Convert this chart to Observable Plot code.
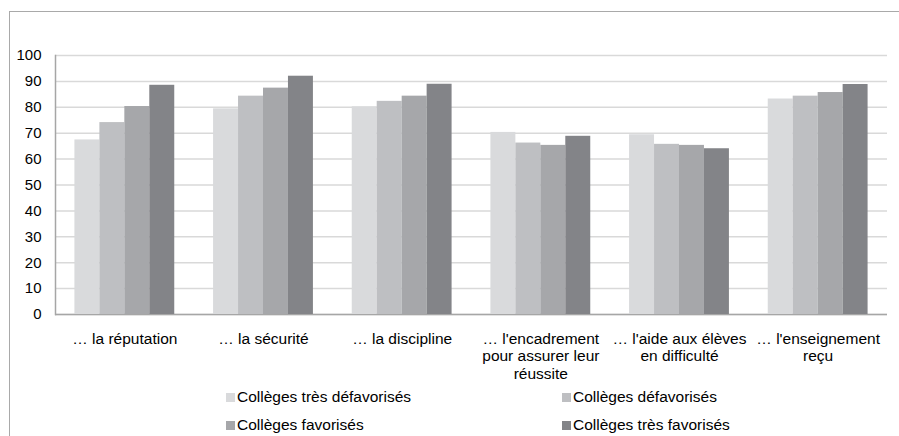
<!DOCTYPE html>
<html>
<head>
<meta charset="utf-8">
<script src="https://cdn.jsdelivr.net/npm/d3@7"></script>
<script src="https://cdn.jsdelivr.net/npm/@observablehq/plot@0.6"></script>
<style>
  html, body { margin: 0; padding: 0; width: 899px; height: 436px; overflow: hidden; background: #fff; }
  body { position: relative; font-family: "Liberation Sans", Arial, sans-serif; }
  #border { position: absolute; left: 9px; top: 11px; width: 960px; height: 500px; border: 1px solid #a9a9a9; box-sizing: border-box; }
  .layer { position: absolute; left: 0; top: 0; }
  .leg { position: absolute; font-size: 15.5px; line-height: 18px; color: #000; white-space: nowrap; display: flex; align-items: center; }
  .sw { display: inline-block; width: 9px; height: 9px; margin-right: 2px; }
</style>
</head>
<body>
<div id="border"></div>
<div id="back" class="layer"></div>
<div id="front" class="layer"></div>
<div id="legend"></div>
<script>
const categories = [
  "… la réputation",
  "… la sécurité",
  "… la discipline",
  "… l'encadrement pour assurer leur réussite",
  "… l'aide aux élèves en difficulté",
  "… l'enseignement reçu"
];
const tickLabels = [
  "… la réputation",
  "… la sécurité",
  "… la discipline",
  "… l'encadrement\npour assurer leur\nréussite",
  "… l'aide aux élèves\nen difficulté",
  "… l'enseignement\nreçu"
];
const series = [
  "Collèges très défavorisés",
  "Collèges défavorisés",
  "Collèges favorisés",
  "Collèges très favorisés"
];
const tresDefavorises = [67.4, 79.4, 80.2, 70.3, 69.4, 83.2];
const defavorises     = [74.1, 84.3, 82.3, 66.2, 65.7, 84.3];
const favorises       = [80.3, 87.4, 84.3, 65.3, 65.3, 85.7];
const tresFavorises   = [88.5, 92.0, 88.9, 68.8, 64.0, 88.8];
const yTicks = [0, 10, 20, 30, 40, 50, 60, 70, 80, 90, 100];
const colors = ["#d9dadc", "#bebfc2", "#a6a7aa", "#838488"];

const seriesValues = [tresDefavorises, defavorises, favorises, tresFavorises];
const table = [];
categories.forEach((c, i) => {
  series.forEach((s, j) => {
    table.push({category: c, series: s, value: seriesValues[j][i]});
  });
});

const common = {
  width: 899,
  height: 385,
  marginLeft: 55,
  marginRight: 12,
  marginTop: 55,
  marginBottom: 71,
  style: {fontFamily: "'Liberation Sans', Arial, sans-serif", fontSize: "15px", color: "#000", background: "transparent", overflow: "visible"},
  y: {domain: [0, 100], axis: null}
};

// Background layer: grid, baseline, y axis
const back = Plot.plot({
  ...common,
  marks: [
    Plot.ruleY(yTicks, {stroke: "#d9d9d9", strokeWidth: 1.5}),
    Plot.ruleY([0], {stroke: "#a6a6a6", strokeWidth: 1.5}),
    Plot.frame({anchor: "left", stroke: "#a6a6a6", strokeWidth: 1.5}),
    Plot.axisY({ticks: yTicks, tickSize: 0, tickPadding: 14, fontSize: 15, label: null})
  ]
});
document.getElementById("back").appendChild(back);

// Foreground layer: grouped bars + category axis
const front = Plot.plot({
  ...common,
  fx: {domain: categories, paddingInner: 0.28, paddingOuter: 0.14, round: false, label: null, axis: null},
  x: {domain: series, padding: 0, round: false, axis: null},
  color: {domain: series, range: colors},
  marks: [
    Plot.barY(table, {fx: "category", x: "series", y: "value", fill: "series"}),
    Plot.axisFx({
      anchor: "bottom",
      tickSize: 0,
      tickPadding: 17,
      fontSize: 15.5,
      lineHeight: 1.13,
      label: null,
      tickFormat: d => tickLabels[categories.indexOf(d)]
    })
  ]
});
document.getElementById("front").appendChild(front);

// Legend (2 x 2)
const legendPos = [
  {left: 226, top: 388},
  {left: 562, top: 388},
  {left: 226, top: 416},
  {left: 562, top: 416}
];
const legend = document.getElementById("legend");
series.forEach((s, i) => {
  const item = document.createElement("div");
  item.className = "leg";
  item.style.left = legendPos[i].left + "px";
  item.style.top = legendPos[i].top + "px";
  const sw = document.createElement("span");
  sw.className = "sw";
  sw.style.background = colors[i];
  item.appendChild(sw);
  item.appendChild(document.createTextNode(s));
  legend.appendChild(item);
});
</script>
</body>
</html>
